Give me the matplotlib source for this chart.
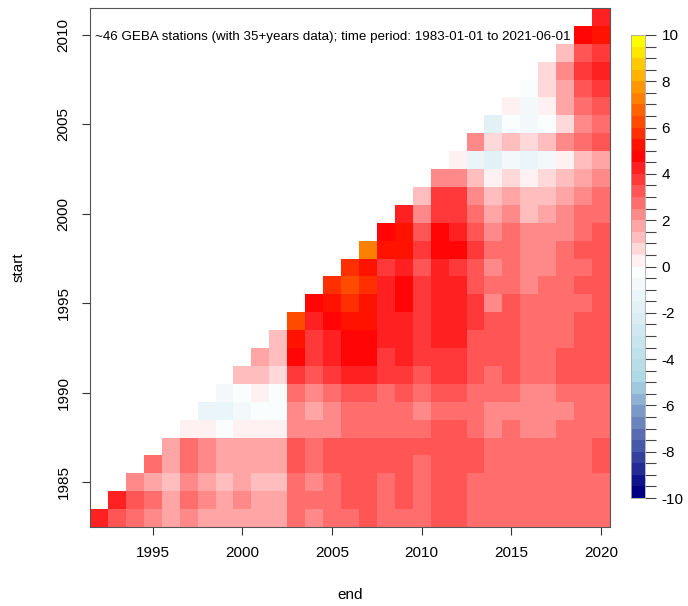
import numpy as np
import matplotlib
matplotlib.use("Agg")
import matplotlib.pyplot as plt
from matplotlib.colors import LinearSegmentedColormap, ListedColormap, BoundaryNorm

plt.rcParams['font.family'] = ['Liberation Sans', 'DejaVu Sans']

# ---------------- data ----------------
start_years = list(range(1983, 2012))
end_years = list(range(1992, 2021))
min_span = 9  # first end year of each row = start + 9

# trend values per start year, listed from end year = start + 9 up to 2020
row_1983 = [4.25, 3.25, 2.75, 2.25, 1.75, 2.25, 1.75, 1.75, 1.75, 1.75, 1.75, 2.75, 2.25, 2.75, 2.75,
            3.25, 2.75, 2.75, 2.75, 3.25, 3.25, 2.75, 2.75, 2.75, 2.75, 2.75, 2.75, 2.75, 2.75]
row_1984 = [4.25, 3.25, 2.75, 1.75, 2.75, 2.25, 1.75, 2.25, 1.75, 1.75, 2.75, 2.75, 2.75, 3.25,
            3.25, 2.75, 3.25, 2.75, 3.25, 3.25, 2.75, 2.75, 2.75, 2.75, 2.75, 2.75, 2.75, 2.75]
row_1985 = [2.25, 1.75, 1.25, 2.25, 1.75, 1.25, 1.75, 1.25, 1.25, 2.75, 2.25, 2.75, 3.25, 3.25,
            2.75, 3.25, 2.75, 3.25, 3.25, 2.75, 2.75, 2.75, 2.75, 2.75, 2.75, 2.75, 2.75]
row_1986 = [2.75, 1.75, 2.75, 2.25, 1.75, 1.75, 1.75, 1.75, 3.25, 2.75, 3.25, 3.25, 3.25, 3.25,
            3.25, 2.75, 3.25, 3.25, 3.25, 2.75, 2.75, 2.75, 2.75, 2.75, 2.75, 3.25]
row_1987 = [1.75, 2.75, 2.25, 1.75, 1.75, 1.75, 1.75, 3.25, 2.75, 3.25, 3.25, 3.25, 3.25, 3.25,
            3.25, 3.25, 3.25, 3.25, 2.75, 2.75, 2.75, 2.75, 2.75, 2.75, 3.25]
row_1988 = [0.25, 0.25, -0.25, 0.25, 0.25, 0.25, 2.25, 2.25, 2.25, 2.75, 2.75, 2.75, 2.75, 2.75,
            3.25, 3.25, 2.75, 2.25, 2.75, 2.25, 2.25, 2.75, 2.75, 2.75]
row_1989 = [-1.25, -1.25, -0.75, -0.25, -0.25, 2.25, 1.75, 2.25, 2.75, 2.75, 2.75, 2.75, 2.25,
            2.75, 2.75, 2.75, 2.25, 2.25, 2.25, 2.25, 2.25, 2.75, 2.75]
row_1990 = [-0.75, -0.25, 0.25, -0.25, 2.75, 2.25, 2.75, 3.25, 3.25, 2.75, 3.25, 2.75, 3.25, 3.25,
            2.75, 2.75, 2.75, 2.25, 2.25, 2.75, 2.75, 2.75]
row_1991 = [1.25, 1.25, 0.75, 3.75, 3.25, 3.75, 4.25, 4.25, 3.75, 3.75, 3.25, 3.75, 3.75, 3.25,
            2.75, 3.25, 2.75, 2.75, 3.25, 3.25, 3.25]
row_1992 = [1.75, 1.25, 4.75, 3.75, 4.25, 4.75, 4.75, 3.75, 4.25, 3.75, 3.75, 3.75, 3.25, 3.25,
            3.25, 2.75, 2.75, 3.25, 3.25, 3.25]
row_1993 = [1.25, 5.25, 3.75, 4.25, 4.75, 4.75, 4.25, 4.25, 3.75, 4.25, 4.25, 3.25, 3.25, 3.25,
            2.75, 2.75, 2.75, 3.25, 3.25]
row_1994 = [6.25, 4.25, 4.75, 5.25, 5.25, 4.25, 4.25, 3.75, 4.25, 4.25, 3.75, 3.25, 3.25, 2.75,
            2.75, 2.75, 3.25, 3.25]
row_1995 = [4.75, 5.25, 5.75, 5.25, 4.25, 4.75, 3.75, 4.25, 4.25, 3.75, 2.25, 3.25, 2.75, 2.75,
            2.75, 2.75, 3.25]
row_1996 = [5.75, 6.25, 5.75, 4.25, 4.75, 3.75, 4.25, 4.25, 3.25, 2.75, 2.75, 2.25, 2.75, 2.75,
            3.25, 3.25]
row_1997 = [5.75, 5.25, 3.75, 4.25, 3.25, 4.25, 3.75, 3.25, 2.25, 2.75, 2.25, 2.25, 2.75, 2.75, 3.25]
row_1998 = [7.25, 5.25, 5.25, 3.75, 4.75, 4.75, 3.75, 2.75, 2.75, 2.25, 2.25, 2.75, 3.25, 3.25]
row_1999 = [4.75, 5.25, 3.25, 4.75, 4.25, 3.25, 2.25, 2.75, 2.25, 2.25, 2.25, 2.75, 3.25]
row_2000 = [4.25, 2.25, 3.75, 3.75, 2.75, 1.75, 2.25, 1.25, 1.75, 2.25, 2.75, 2.75]
row_2001 = [1.25, 3.75, 3.75, 2.25, 1.25, 1.75, 1.25, 1.25, 1.75, 2.25, 2.75]
row_2002 = [2.25, 2.25, 1.25, 0.25, 0.75, 0.25, 0.75, 1.25, 1.75, 2.25]
row_2003 = [0.25, -1.25, -1.75, -0.75, -1.25, -0.75, 0.25, 1.25, 1.75]
row_2004 = [2.25, 0.75, 1.25, 0.75, 1.25, 2.25, 2.75, 3.25]
row_2005 = [-1.75, -0.25, -0.75, -0.25, 0.75, 2.25, 2.75]
row_2006 = [0.25, -0.75, 0.25, 1.75, 2.75, 3.25]
row_2007 = [-0.25, 0.75, 1.75, 3.25, 3.75]
row_2008 = [0.75, 2.25, 3.75, 4.25]
row_2009 = [1.25, 3.25, 3.75]
row_2010 = [4.75, 5.25]
row_2011 = [4.25]

rows = [row_1983, row_1984, row_1985, row_1986, row_1987, row_1988, row_1989, row_1990,
        row_1991, row_1992, row_1993, row_1994, row_1995, row_1996, row_1997, row_1998,
        row_1999, row_2000, row_2001, row_2002, row_2003, row_2004, row_2005, row_2006,
        row_2007, row_2008, row_2009, row_2010, row_2011]

x_ticks = [1995, 2000, 2005, 2010, 2015, 2020]
y_ticks = [1985, 1990, 1995, 2000, 2005, 2010]
cbar_labels = [-10, -8, -6, -4, -2, 0, 2, 4, 6, 8, 10]
title_text = "~46 GEBA stations (with 35+years data); time period: 1983-01-01 to 2021-06-01"

# ---------------- matrix ----------------
Z = np.full((len(start_years), len(end_years)), np.nan)
for i, s in enumerate(start_years):
    vals = rows[i]
    first = s + min_span
    for k, v in enumerate(vals):
        j = end_years.index(first + k)
        Z[i, j] = v
Zm = np.ma.masked_invalid(Z)

# ---------------- colours ----------------
ramp = LinearSegmentedColormap.from_list("ramp", ["navy", "lightblue", "white", "red", "yellow"])
ncol = 40
cmap = ListedColormap([ramp(k / (ncol - 1)) for k in range(ncol)])
bounds = np.linspace(-10, 10, ncol + 1)
norm = BoundaryNorm(bounds, ncol)

# ---------------- figure ----------------
W, H = 688, 606
fig = plt.figure(figsize=(W / 100, H / 100), dpi=100)
L, R, T, B = 90, 610, 8, 527
ax = fig.add_axes([L / W, 1 - B / H, (R - L) / W, (B - T) / H])

xe = np.arange(end_years[0] - 0.5, end_years[-1] + 1.0, 1.0)
ye = np.arange(start_years[0] - 0.5, start_years[-1] + 1.0, 1.0)
ax.pcolormesh(xe, ye, Zm, cmap=cmap, norm=norm, shading="flat", antialiased=False)
ax.set_xlim(xe[0], xe[-1])
ax.set_ylim(ye[0], ye[-1])

ax.set_xticks(x_ticks)
ax.set_xticklabels([str(t) for t in x_ticks])
ax.set_yticks(y_ticks)
ax.set_yticklabels([str(t) for t in y_ticks], rotation=90, va="center")
ax.tick_params(axis="both", direction="out", length=6, width=0.8, labelsize=11, pad=8,
               color="#333333")
for sp in ax.spines.values():
    sp.set_color("#555555")
    sp.set_linewidth(0.8)
ax.set_xlabel("end", fontsize=11, labelpad=20)
ax.set_ylabel("start", fontsize=11, labelpad=22)
ax.text(0.01, 0.945, title_text, transform=ax.transAxes, fontsize=9.6, ha="left", va="center")

# colour bar
cb_l, cb_r, cb_t, cb_b = 631, 645, 35, 498
cax = fig.add_axes([cb_l / W, 1 - cb_b / H, (cb_r - cb_l) / W, (cb_b - cb_t) / H])
for k in range(ncol):
    cax.axhspan(bounds[k], bounds[k + 1], color=cmap(k), lw=0)
cax.set_ylim(-10, 10)
cax.set_xlim(0, 1)
cax.set_xticks([])
cax.yaxis.tick_right()
cax.set_yticks(bounds, minor=True)
cax.set_yticks(cbar_labels)
cax.set_yticklabels([str(v) for v in cbar_labels])
cax.tick_params(axis="y", which="both", direction="out", length=8, width=0.8,
                color="#444444", labelsize=11, pad=4)
for sp in cax.spines.values():
    sp.set_color("#aaaaaa")
    sp.set_linewidth(0.6)

fig.savefig("out.png", dpi=100)
